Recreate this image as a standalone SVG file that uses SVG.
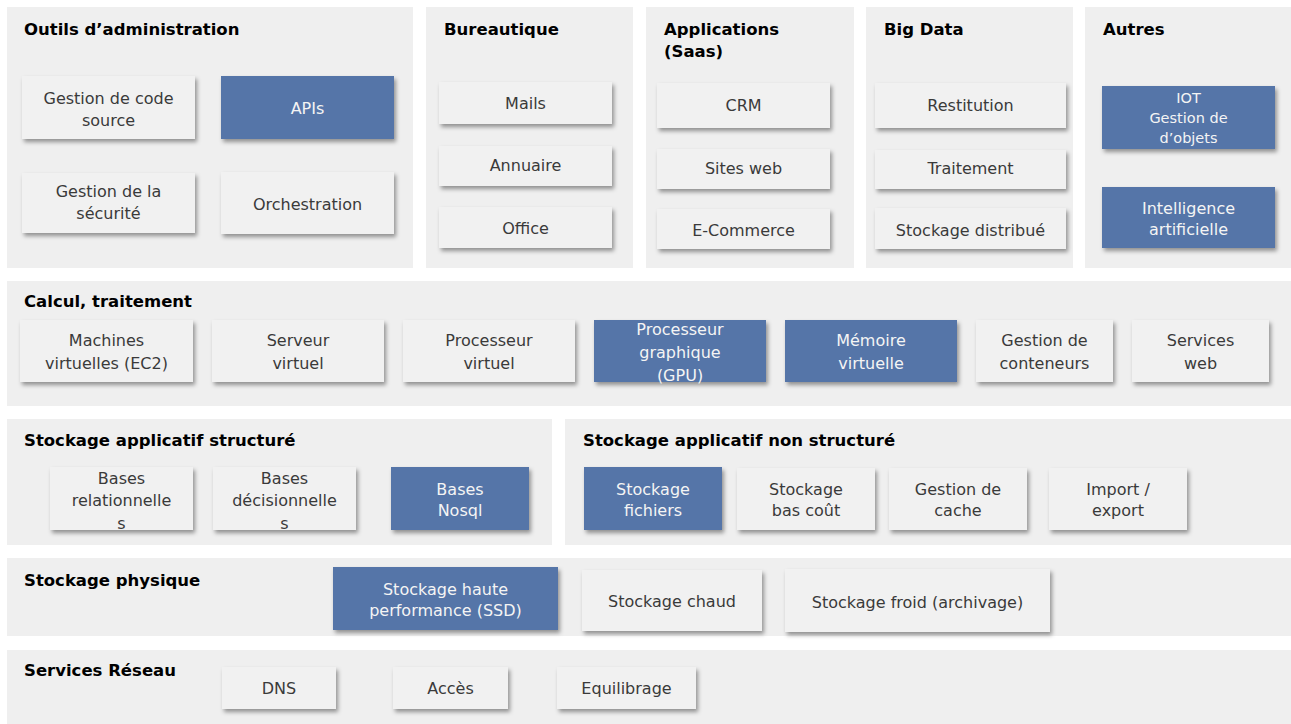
<svg xmlns="http://www.w3.org/2000/svg" width="1291" height="724" viewBox="0 0 1291 724">
<style>
.panel{fill:#efefef}
.box{fill:#f1f1f1;filter:url(#sh)}
.blue{fill:#5574a8;filter:url(#sh)}
text{font-family:"DejaVu Sans","Liberation Sans",sans-serif}
.h{font-size:16.5px;font-weight:bold;fill:#000}
.t{font-size:16px;fill:#3a3a3a;text-anchor:middle}
.w{font-size:16px;fill:#f4f4f4;text-anchor:middle}
.s{font-size:14.5px}
</style>
<defs>
<filter id="sh" x="-10%" y="-20%" width="125%" height="150%">
<feDropShadow dx="2" dy="3" stdDeviation="2" flood-color="#000" flood-opacity="0.4"/>
</filter>
</defs>
<rect width="1291" height="724" fill="#fff"/>
<g id="panels">
<rect class="panel" x="7" y="7" width="406" height="261"/>
<rect class="panel" x="426" y="7" width="207" height="261"/>
<rect class="panel" x="646" y="7" width="208" height="261"/>
<rect class="panel" x="866" y="7" width="207" height="261"/>
<rect class="panel" x="1085" y="7" width="206" height="261"/>
<rect class="panel" x="7" y="281" width="1284" height="125"/>
<rect class="panel" x="7" y="419" width="545" height="126"/>
<rect class="panel" x="565" y="419" width="726" height="126"/>
<rect class="panel" x="7" y="558" width="1284" height="78"/>
<rect class="panel" x="7" y="650" width="1284" height="74"/>
<text class="h" x="24" y="35">Outils d’administration</text>
<text class="h" x="444" y="35">Bureautique</text>
<text class="h" x="664" y="35">Applications</text>
<text class="h" x="664" y="57">(Saas)</text>
<text class="h" x="884" y="35">Big Data</text>
<text class="h" x="1103" y="35">Autres</text>
<text class="h" x="24" y="307">Calcul, traitement</text>
<text class="h" x="24" y="446">Stockage applicatif structuré</text>
<text class="h" x="583" y="446">Stockage applicatif non structuré</text>
<text class="h" x="24" y="586">Stockage physique</text>
<text class="h" x="24" y="676">Services Réseau</text>
</g>
<g id="connectors"></g>
<g id="n-code"><rect class="box" x="22" y="76" width="173" height="63"/><text class="t" x="108.5" y="104">Gestion de code</text><text class="t" x="108.5" y="126">source</text></g>
<g id="n-apis"><rect class="blue" x="221" y="76" width="173" height="63"/><text class="w" x="307.5" y="114">APIs</text></g>
<g id="n-secu"><rect class="box" x="22" y="173" width="173" height="60"/><text class="t" x="108.5" y="197">Gestion de la</text><text class="t" x="108.5" y="219">sécurité</text></g>
<g id="n-orch"><rect class="box" x="221" y="172" width="173" height="62"/><text class="t" x="307.5" y="210">Orchestration</text></g>
<g id="n-mails"><rect class="box" x="439" y="82" width="173" height="42"/><text class="t" x="525.5" y="109">Mails</text></g>
<g id="n-annuaire"><rect class="box" x="439" y="146" width="173" height="40"/><text class="t" x="525.5" y="171">Annuaire</text></g>
<g id="n-office"><rect class="box" x="439" y="207" width="173" height="41"/><text class="t" x="525.5" y="234">Office</text></g>
<g id="n-crm"><rect class="box" x="657" y="83" width="173" height="45"/><text class="t" x="743.5" y="111">CRM</text></g>
<g id="n-sites"><rect class="box" x="657" y="149" width="173" height="40"/><text class="t" x="743.5" y="174">Sites web</text></g>
<g id="n-ecom"><rect class="box" x="657" y="209" width="173" height="40"/><text class="t" x="743.5" y="236">E-Commerce</text></g>
<g id="n-restit"><rect class="box" x="875" y="83" width="191" height="45"/><text class="t" x="970.5" y="111">Restitution</text></g>
<g id="n-trait"><rect class="box" x="875" y="150" width="191" height="39"/><text class="t" x="970.5" y="174">Traitement</text></g>
<g id="n-stockdist"><rect class="box" x="875" y="208" width="191" height="41"/><text class="t" x="970.5" y="236">Stockage distribué</text></g>
<g id="n-iot"><rect class="blue" x="1102" y="86" width="173" height="63"/><text class="w s" x="1188.5" y="103">IOT</text><text class="w s" x="1188.5" y="123">Gestion de</text><text class="w s" x="1188.5" y="143">d’objets</text></g>
<g id="n-ia"><rect class="blue" x="1102" y="187" width="173" height="61"/><text class="w" x="1188.5" y="214">Intelligence</text><text class="w" x="1188.5" y="235">artificielle</text></g>
<g id="n-vm"><rect class="box" x="20" y="320" width="173" height="62"/><text class="t" x="106.5" y="346">Machines</text><text class="t" x="106.5" y="369">virtuelles (EC2)</text></g>
<g id="n-serveur"><rect class="box" x="212" y="320" width="172" height="62"/><text class="t" x="298" y="346">Serveur</text><text class="t" x="298" y="369">virtuel</text></g>
<g id="n-cpu"><rect class="box" x="403" y="320" width="172" height="62"/><text class="t" x="489" y="346">Processeur</text><text class="t" x="489" y="369">virtuel</text></g>
<g id="n-gpu"><rect class="blue" x="594" y="320" width="172" height="62"/><text class="w" x="680" y="335">Processeur</text><text class="w" x="680" y="358">graphique</text><text class="w" x="680" y="381">(GPU)</text></g>
<g id="n-mem"><rect class="blue" x="785" y="320" width="172" height="62"/><text class="w" x="871" y="346">Mémoire</text><text class="w" x="871" y="369">virtuelle</text></g>
<g id="n-cont"><rect class="box" x="976" y="320" width="137" height="62"/><text class="t" x="1044.5" y="346">Gestion de</text><text class="t" x="1044.5" y="369">conteneurs</text></g>
<g id="n-web"><rect class="box" x="1132" y="320" width="137" height="62"/><text class="t" x="1200.5" y="346">Services</text><text class="t" x="1200.5" y="369">web</text></g>
<g id="n-rel"><rect class="box" x="50" y="467" width="143" height="63"/><text class="t" x="121.5" y="484">Bases</text><text class="t" x="121.5" y="506">relationnelle</text><text class="t" x="121.5" y="529">s</text></g>
<g id="n-dec"><rect class="box" x="213" y="467" width="143" height="63"/><text class="t" x="284.5" y="484">Bases</text><text class="t" x="284.5" y="506">décisionnelle</text><text class="t" x="284.5" y="529">s</text></g>
<g id="n-nosql"><rect class="blue" x="391" y="467" width="138" height="63"/><text class="w" x="460" y="495">Bases</text><text class="w" x="460" y="516">Nosql</text></g>
<g id="n-fichiers"><rect class="blue" x="584" y="467" width="138" height="63"/><text class="w" x="653" y="495">Stockage</text><text class="w" x="653" y="516">fichiers</text></g>
<g id="n-bascout"><rect class="box" x="737" y="468" width="138" height="62"/><text class="t" x="806" y="495">Stockage</text><text class="t" x="806" y="516">bas coût</text></g>
<g id="n-cache"><rect class="box" x="889" y="468" width="138" height="62"/><text class="t" x="958" y="495">Gestion de</text><text class="t" x="958" y="516">cache</text></g>
<g id="n-import"><rect class="box" x="1049" y="468" width="138" height="62"/><text class="t" x="1118" y="495">Import /</text><text class="t" x="1118" y="516">export</text></g>
<g id="n-ssd"><rect class="blue" x="333" y="567" width="225" height="63"/><text class="w" x="445.5" y="595">Stockage haute</text><text class="w" x="445.5" y="616">performance (SSD)</text></g>
<g id="n-chaud"><rect class="box" x="582" y="570" width="180" height="61"/><text class="t" x="672" y="607">Stockage chaud</text></g>
<g id="n-froid"><rect class="box" x="785" y="569" width="265" height="63"/><text class="t" x="917.5" y="608">Stockage froid (archivage)</text></g>
<g id="n-dns"><rect class="box" x="222" y="667" width="114" height="42"/><text class="t" x="279" y="694">DNS</text></g>
<g id="n-acces"><rect class="box" x="393" y="667" width="115" height="42"/><text class="t" x="450.5" y="694">Accès</text></g>
<g id="n-equi"><rect class="box" x="557" y="667" width="139" height="42"/><text class="t" x="626.5" y="694">Equilibrage</text></g>
</svg>
